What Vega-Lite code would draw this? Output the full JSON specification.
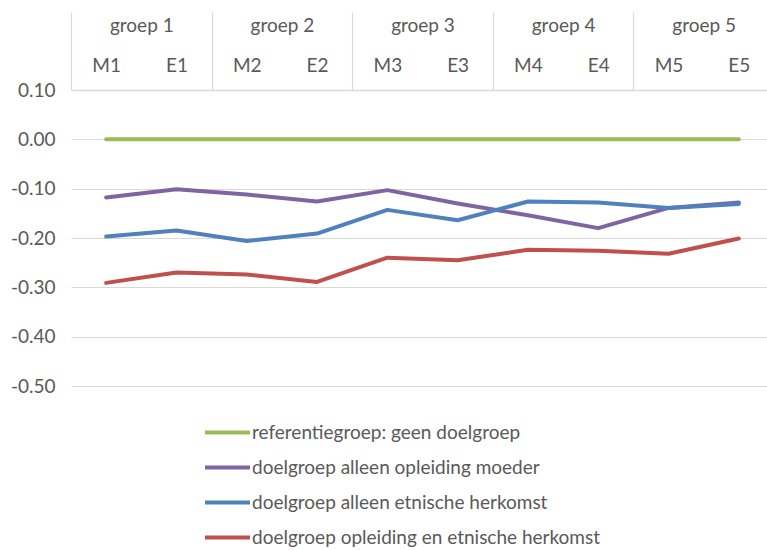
{
  "$schema": "https://vega.github.io/schema/vega-lite/v6.json",
  "autosize": {"type": "none"},
  "padding": {"left": 71, "top": 90, "right": 0, "bottom": 164},
  "width": 703,
  "height": 296,
  "config": {
    "view": {"stroke": null},
    "font": "Lato",
    "locale": {"number": {"decimal": ".", "thousands": ",", "grouping": [3], "currency": ["", ""], "minus": "-"}},
    "axis": {"labelFont": "Lato", "labelColor": "#595959", "labelFontSize": 19},
    "legend": {"labelFont": "Lato", "labelColor": "#595959", "labelFontSize": 19}
  },
  "datasets": {
    "groepen": [
      {"groep": "groep 1"}, {"groep": "groep 2"}, {"groep": "groep 3"}, {"groep": "groep 4"}, {"groep": "groep 5"}
    ]
  },
  "data": {
    "values": [
      {"reeks": "referentiegroep: geen doelgroep", "cat": "M1", "waarde": 0},
      {"reeks": "referentiegroep: geen doelgroep", "cat": "E1", "waarde": 0},
      {"reeks": "referentiegroep: geen doelgroep", "cat": "M2", "waarde": 0},
      {"reeks": "referentiegroep: geen doelgroep", "cat": "E2", "waarde": 0},
      {"reeks": "referentiegroep: geen doelgroep", "cat": "M3", "waarde": 0},
      {"reeks": "referentiegroep: geen doelgroep", "cat": "E3", "waarde": 0},
      {"reeks": "referentiegroep: geen doelgroep", "cat": "M4", "waarde": 0},
      {"reeks": "referentiegroep: geen doelgroep", "cat": "E4", "waarde": 0},
      {"reeks": "referentiegroep: geen doelgroep", "cat": "M5", "waarde": 0},
      {"reeks": "referentiegroep: geen doelgroep", "cat": "E5", "waarde": 0},
      {"reeks": "doelgroep alleen opleiding moeder", "cat": "M1", "waarde": -0.118},
      {"reeks": "doelgroep alleen opleiding moeder", "cat": "E1", "waarde": -0.101},
      {"reeks": "doelgroep alleen opleiding moeder", "cat": "M2", "waarde": -0.112},
      {"reeks": "doelgroep alleen opleiding moeder", "cat": "E2", "waarde": -0.126},
      {"reeks": "doelgroep alleen opleiding moeder", "cat": "M3", "waarde": -0.103},
      {"reeks": "doelgroep alleen opleiding moeder", "cat": "E3", "waarde": -0.130},
      {"reeks": "doelgroep alleen opleiding moeder", "cat": "M4", "waarde": -0.154},
      {"reeks": "doelgroep alleen opleiding moeder", "cat": "E4", "waarde": -0.180},
      {"reeks": "doelgroep alleen opleiding moeder", "cat": "M5", "waarde": -0.139},
      {"reeks": "doelgroep alleen opleiding moeder", "cat": "E5", "waarde": -0.128},
      {"reeks": "doelgroep alleen etnische herkomst", "cat": "M1", "waarde": -0.197},
      {"reeks": "doelgroep alleen etnische herkomst", "cat": "E1", "waarde": -0.185},
      {"reeks": "doelgroep alleen etnische herkomst", "cat": "M2", "waarde": -0.206},
      {"reeks": "doelgroep alleen etnische herkomst", "cat": "E2", "waarde": -0.191},
      {"reeks": "doelgroep alleen etnische herkomst", "cat": "M3", "waarde": -0.143},
      {"reeks": "doelgroep alleen etnische herkomst", "cat": "E3", "waarde": -0.164},
      {"reeks": "doelgroep alleen etnische herkomst", "cat": "M4", "waarde": -0.126},
      {"reeks": "doelgroep alleen etnische herkomst", "cat": "E4", "waarde": -0.128},
      {"reeks": "doelgroep alleen etnische herkomst", "cat": "M5", "waarde": -0.139},
      {"reeks": "doelgroep alleen etnische herkomst", "cat": "E5", "waarde": -0.131},
      {"reeks": "doelgroep opleiding en etnische herkomst", "cat": "M1", "waarde": -0.291},
      {"reeks": "doelgroep opleiding en etnische herkomst", "cat": "E1", "waarde": -0.270},
      {"reeks": "doelgroep opleiding en etnische herkomst", "cat": "M2", "waarde": -0.274},
      {"reeks": "doelgroep opleiding en etnische herkomst", "cat": "E2", "waarde": -0.289},
      {"reeks": "doelgroep opleiding en etnische herkomst", "cat": "M3", "waarde": -0.240},
      {"reeks": "doelgroep opleiding en etnische herkomst", "cat": "E3", "waarde": -0.245},
      {"reeks": "doelgroep opleiding en etnische herkomst", "cat": "M4", "waarde": -0.224},
      {"reeks": "doelgroep opleiding en etnische herkomst", "cat": "E4", "waarde": -0.226},
      {"reeks": "doelgroep opleiding en etnische herkomst", "cat": "M5", "waarde": -0.232},
      {"reeks": "doelgroep opleiding en etnische herkomst", "cat": "E5", "waarde": -0.201}
    ]
  },
  "layer": [
    {
      "mark": {"type": "line", "strokeWidth": 4, "strokeCap": "round", "strokeJoin": "round"},
      "encoding": {
        "x": {
          "field": "cat", "type": "ordinal",
          "scale": {"domain": ["M1","E1","M2","E2","M3","E3","M4","E4","M5","E5"], "paddingInner": 0, "paddingOuter": 0},
          "axis": {"orient": "top", "title": null, "ticks": false, "tickSize": 0, "labelPadding": 15, "labelAngle": 0, "domain": true, "domainColor": "#d9d9d9", "domainWidth": 1.5, "offset": 0}
        },
        "y": {
          "field": "waarde", "type": "quantitative",
          "scale": {"domain": [-0.5, 0.1], "nice": false, "zero": false},
          "axis": {"title": null, "values": [0.1, 0, -0.1, -0.2, -0.3, -0.4, -0.5], "format": ".2f", "domain": false, "ticks": false, "labelPadding": 16, "gridColor": "#d9d9d9", "gridWidth": 1.2}
        },
        "color": {
          "field": "reeks", "type": "nominal",
          "sort": ["referentiegroep: geen doelgroep", "doelgroep alleen opleiding moeder", "doelgroep alleen etnische herkomst", "doelgroep opleiding en etnische herkomst"],
          "scale": {
            "domain": ["referentiegroep: geen doelgroep", "doelgroep alleen opleiding moeder", "doelgroep alleen etnische herkomst", "doelgroep opleiding en etnische herkomst"],
            "range": ["#9bbb59", "#8064a2", "#4f81bd", "#c0504d"]
          },
          "legend": {
            "title": null, "orient": "none", "legendX": 132, "legendY": 318,
            "symbolType": "stroke", "symbolStrokeWidth": 4, "symbolSize": 2025,
            "labelOffset": 0, "rowPadding": -1, "labelLimit": 500
          }
        }
      }
    },
    {
      "data": {"name": "groepen"},
      "mark": {"type": "rule", "strokeOpacity": 0},
      "encoding": {
        "x": {
          "field": "groep", "type": "ordinal",
          "scale": {"paddingInner": 0, "paddingOuter": 0},
          "axis": {"orient": "top", "title": null, "offset": 0, "tickBand": "extent", "ticks": true, "tickSize": 78, "tickColor": "#d9d9d9", "tickWidth": 1.2, "domain": false, "labelPadding": -23, "labelAngle": 0}
        }
      }
    }
  ],
  "resolve": {"scale": {"x": "independent"}, "axis": {"x": "independent"}}
}
